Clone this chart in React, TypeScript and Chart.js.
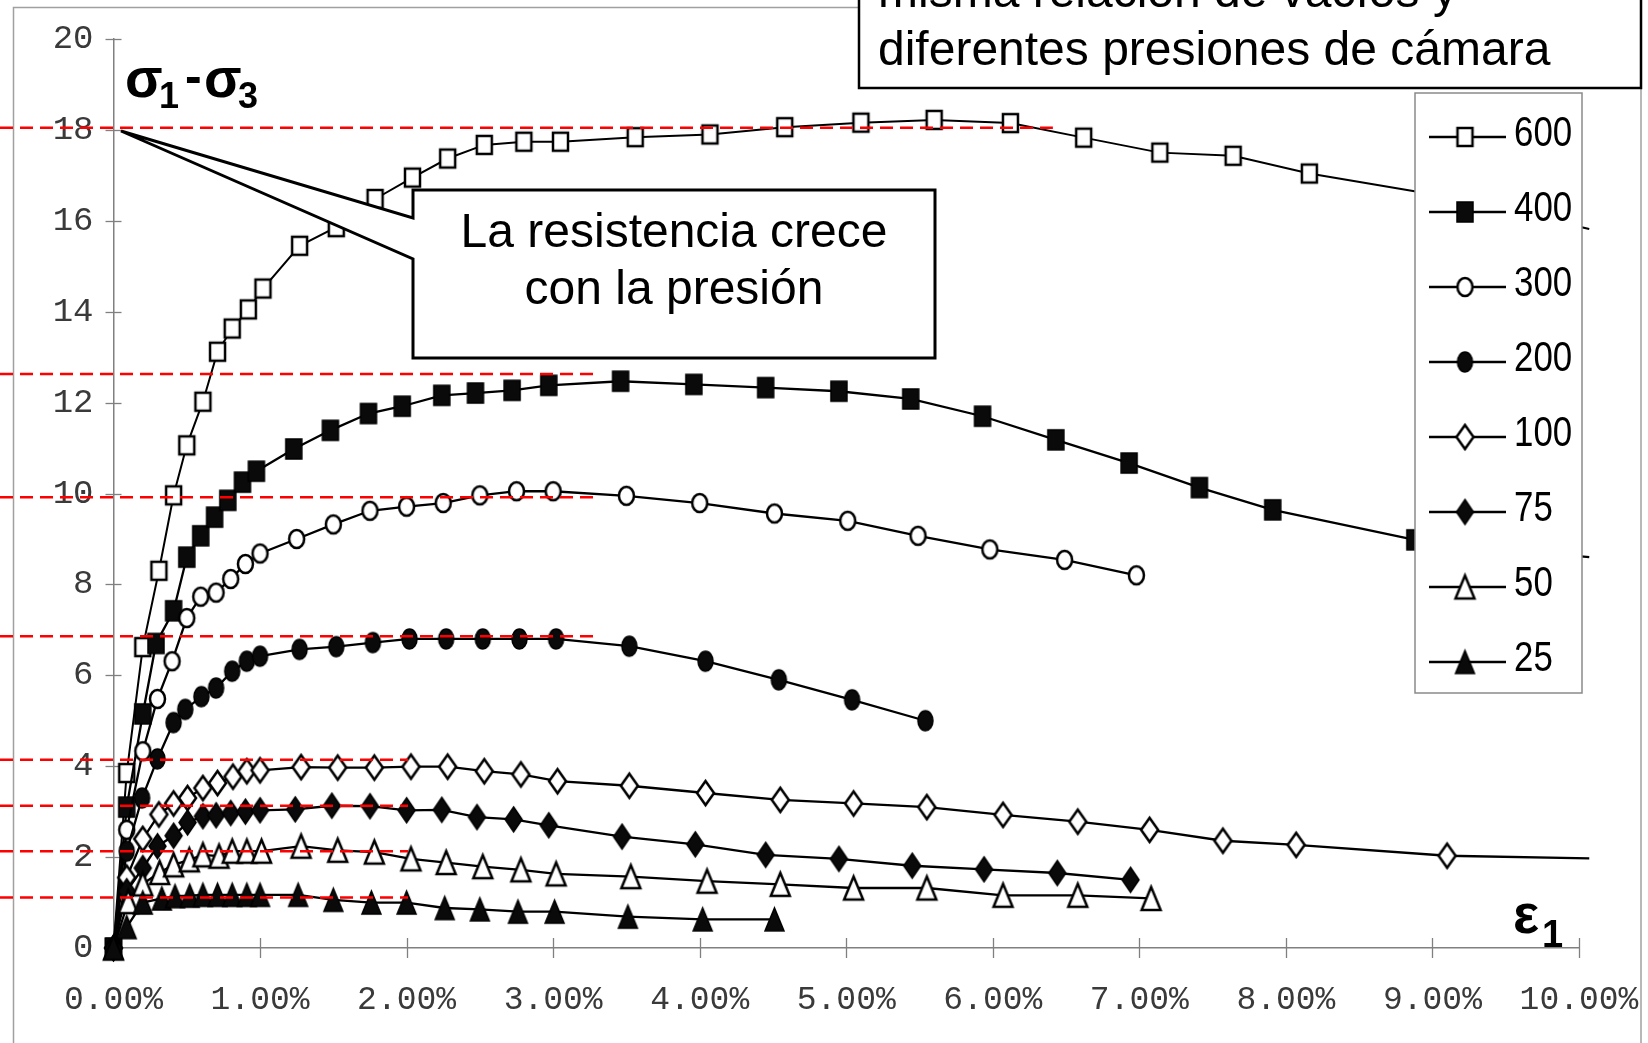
import React, { useEffect, useRef } from 'react';
import { Chart, registerables } from 'chart.js';

Chart.register(...registerables);

// ---- Data (strain in %, deviator stress) ----
const seriesLabels = ['600', '400', '300', '200', '100', '75', '50', '25'];

const strain600 = [0, 0.09, 0.2, 0.31, 0.41, 0.5, 0.61, 0.71, 0.81, 0.92, 1.02, 1.27, 1.52, 1.785, 2.04, 2.28, 2.53, 2.8, 3.05, 3.56, 4.07, 4.58, 5.1, 5.6, 6.12, 6.62, 7.14, 7.64, 8.16, 9.15, 10.07];
const stress600 = [0, 3.85, 6.62, 8.3, 9.96, 11.06, 12.02, 13.12, 13.63, 14.05, 14.51, 15.45, 15.86, 16.48, 16.95, 17.37, 17.67, 17.74, 17.74, 17.84, 17.9, 18.06, 18.16, 18.22, 18.15, 17.83, 17.5, 17.43, 17.04, 16.5, 15.82];

const strain400 = [0, 0.09, 0.2, 0.29, 0.41, 0.5, 0.595, 0.69, 0.78, 0.88, 0.975, 1.23, 1.48, 1.74, 1.97, 2.24, 2.47, 2.72, 2.97, 3.46, 3.96, 4.45, 4.95, 5.44, 5.93, 6.43, 6.93, 7.41, 7.91, 8.88, 9.55, 10.07];
const stress400 = [0, 3.1, 5.15, 6.7, 7.42, 8.6, 9.07, 9.48, 9.85, 10.25, 10.49, 10.98, 11.39, 11.76, 11.92, 12.16, 12.21, 12.27, 12.38, 12.47, 12.4, 12.33, 12.25, 12.08, 11.7, 11.18, 10.67, 10.13, 9.64, 8.98, 8.75, 8.6];

const strain300 = [0, 0.09, 0.2, 0.3, 0.4, 0.5, 0.595, 0.7, 0.8, 0.9, 1.0, 1.25, 1.5, 1.75, 2.0, 2.25, 2.5, 2.75, 3.0, 3.5, 4.0, 4.51, 5.01, 5.49, 5.98, 6.49, 6.98];
const stress300 = [0, 2.6, 4.33, 5.48, 6.31, 7.26, 7.73, 7.82, 8.12, 8.45, 8.68, 9.0, 9.32, 9.62, 9.71, 9.79, 9.96, 10.05, 10.05, 9.95, 9.79, 9.56, 9.4, 9.07, 8.77, 8.54, 8.2];

const strain200 = [0, 0.09, 0.195, 0.3, 0.41, 0.49, 0.6, 0.7, 0.81, 0.91, 1.0, 1.27, 1.52, 1.77, 2.02, 2.27, 2.52, 2.77, 3.02, 3.52, 4.04, 4.54, 5.04, 5.54];
const stress200 = [0, 2.13, 3.3, 4.16, 4.96, 5.25, 5.53, 5.72, 6.09, 6.31, 6.42, 6.57, 6.63, 6.72, 6.8, 6.8, 6.8, 6.8, 6.8, 6.64, 6.31, 5.9, 5.46, 5.0];

const strain100 = [0, 0.09, 0.2, 0.31, 0.41, 0.505, 0.61, 0.71, 0.815, 0.91, 1.0, 1.28, 1.53, 1.78, 2.03, 2.28, 2.53, 2.78, 3.03, 3.52, 4.04, 4.55, 5.05, 5.55, 6.07, 6.58, 7.07, 7.57, 8.07, 9.1, 10.07];
const stress100 = [0, 1.55, 2.4, 2.94, 3.18, 3.3, 3.52, 3.63, 3.77, 3.89, 3.91, 3.98, 3.97, 3.97, 3.99, 3.99, 3.89, 3.82, 3.67, 3.57, 3.41, 3.26, 3.18, 3.1, 2.93, 2.78, 2.6, 2.36, 2.27, 2.03, 1.97];

const strain75 = [0, 0.09, 0.2, 0.3, 0.41, 0.505, 0.61, 0.7, 0.8, 0.9, 1.0, 1.24, 1.49, 1.75, 2.0, 2.24, 2.48, 2.73, 2.97, 3.47, 3.97, 4.45, 4.95, 5.45, 5.94, 6.44, 6.94];
const stress75 = [0, 1.25, 1.76, 2.24, 2.47, 2.76, 2.9, 2.92, 2.97, 3.0, 3.03, 3.05, 3.13, 3.12, 3.03, 3.04, 2.88, 2.83, 2.7, 2.45, 2.28, 2.05, 1.96, 1.81, 1.73, 1.65, 1.5];

const strain50 = [0, 0.1, 0.2, 0.315, 0.41, 0.517, 0.61, 0.72, 0.81, 0.91, 1.01, 1.28, 1.53, 1.78, 2.03, 2.27, 2.52, 2.78, 3.02, 3.53, 4.05, 4.55, 5.05, 5.55, 6.07, 6.58, 7.08];
const stress50 = [0, 1.02, 1.41, 1.66, 1.83, 1.94, 2.05, 2.02, 2.13, 2.13, 2.13, 2.24, 2.15, 2.11, 1.96, 1.88, 1.79, 1.72, 1.63, 1.57, 1.47, 1.4, 1.32, 1.32, 1.16, 1.16, 1.09];

const strain25 = [0, 0.09, 0.2, 0.33, 0.42, 0.52, 0.61, 0.71, 0.81, 0.91, 1.0, 1.26, 1.5, 1.76, 2.0, 2.26, 2.5, 2.76, 3.01, 3.51, 4.02, 4.51];
const stress25 = [0, 0.46, 1.0, 1.09, 1.14, 1.15, 1.17, 1.17, 1.17, 1.17, 1.17, 1.17, 1.06, 1.0, 1.0, 0.88, 0.85, 0.8, 0.8, 0.69, 0.63, 0.63];

const strains = [strain600, strain400, strain300, strain200, strain100, strain75, strain50, strain25];
const stresses = [stress600, stress400, stress300, stress200, stress100, stress75, stress50, stress25];

// Red reference (peak) levels and where each dashed line ends (strain %)
const refLevels = [18.05, 12.63, 9.92, 6.86, 4.14, 3.13, 2.13, 1.11];
const refEnds = [6.41, 3.3, 3.3, 3.3, 2.01, 2.01, 2.01, 2.01];

const titleLines = ['misma relación de vacíos y', 'diferentes presiones de cámara'];
const calloutLines = ['La resistencia crece', 'con la presión'];

// marker spec per series: shape, filled, w, h, lineWidth
const markerSpecs: [string, boolean, number, number, number][] = [
  ['square', false, 15, 18, 2.5],
  ['square', true, 16, 20, 1.5],
  ['circle', false, 15, 18, 2.5],
  ['circle', true, 15, 20, 1.5],
  ['diamond', false, 17, 24, 2.5],
  ['diamond', true, 17, 25, 1.5],
  ['triangle', false, 19, 23, 2.5],
  ['triangle', true, 19, 23, 1.5],
];
const lineWidths = [2, 2.3, 2.3, 2.3, 2.3, 2.3, 2.3, 2.3];

function makeMarker(shape: string, filled: boolean, w: number, h: number, lw: number) {
  const c = document.createElement('canvas');
  const pad = Math.ceil(lw * 2) + 1;
  c.width = Math.round(w + 2 * pad);
  c.height = Math.round(h + 2 * pad);
  const g = c.getContext('2d')!;
  const cx = c.width / 2;
  const cy = c.height / 2;
  g.beginPath();
  if (shape === 'square') {
    g.rect(cx - w / 2, cy - h / 2, w, h);
  } else if (shape === 'circle') {
    g.ellipse(cx, cy, w / 2, h / 2, 0, 0, Math.PI * 2);
  } else if (shape === 'diamond') {
    g.moveTo(cx, cy - h / 2);
    g.lineTo(cx + w / 2, cy);
    g.lineTo(cx, cy + h / 2);
    g.lineTo(cx - w / 2, cy);
  } else {
    g.moveTo(cx, cy - h / 2);
    g.lineTo(cx + w / 2, cy + h / 2);
    g.lineTo(cx - w / 2, cy + h / 2);
  }
  g.closePath();
  g.fillStyle = filled ? '#0a0a0a' : '#ffffff';
  g.fill();
  g.lineWidth = lw;
  g.lineJoin = 'miter';
  g.strokeStyle = '#000';
  g.stroke();
  return c;
}

export default function App() {
  const ref = useRef<HTMLCanvasElement>(null);

  useEffect(() => {
    const markers = markerSpecs.map((m) => makeMarker(m[0], m[1], m[2], m[3], m[4]));

    const datasets = seriesLabels.map((label, i) => {
      const xs = strains[i];
      const ys = stresses[i];
      const radii = xs.map((x) => (x > 10 ? 0 : 8));
      return {
        label,
        data: xs.map((x, k) => ({ x, y: ys[k] })),
        borderColor: '#000',
        borderWidth: lineWidths[i],
        backgroundColor: '#000',
        pointStyle: markers[i] as any,
        pointRadius: radii,
        pointHoverRadius: radii,
        tension: 0,
        clip: false as any,
        order: 8 - i,
      };
    });

    const overlay = {
      id: 'overlay',
      beforeDatasetsDraw(chart: any) {
        const ctx = chart.ctx as CanvasRenderingContext2D;
        const xs = chart.scales.x;
        const ys = chart.scales.y;
        ctx.save();
        // outer frame
        ctx.strokeStyle = '#a0a0a0';
        ctx.lineWidth = 1.5;
        ctx.beginPath();
        ctx.moveTo(13.5, 1043);
        ctx.lineTo(13.5, 7.5);
        ctx.lineTo(860, 7.5);
        ctx.stroke();
        ctx.beginPath();
        ctx.moveTo(1641, 88);
        ctx.lineTo(1641, 1043);
        ctx.stroke();
        // tick stubs crossing the axes
        ctx.strokeStyle = '#808080';
        ctx.lineWidth = 1.3;
        ys.ticks.forEach((t: any) => {
          const py = Math.round(ys.getPixelForValue(t.value)) + 0.5;
          ctx.beginPath();
          ctx.moveTo(xs.left - 8, py);
          ctx.lineTo(xs.left + 8, py);
          ctx.stroke();
        });
        xs.ticks.forEach((t: any) => {
          const px = Math.round(xs.getPixelForValue(t.value)) + 0.5;
          ctx.beginPath();
          ctx.moveTo(px, ys.bottom - 10);
          ctx.lineTo(px, ys.bottom + 10);
          ctx.stroke();
        });
        ctx.restore();
      },
      afterDraw(chart: any) {
        const ctx = chart.ctx as CanvasRenderingContext2D;
        const xs = chart.scales.x;
        const ys = chart.scales.y;
        ctx.save();

        // red dashed peak lines
        ctx.strokeStyle = '#ff0000';
        ctx.lineWidth = 2.5;
        ctx.setLineDash([13, 7]);
        refLevels.forEach((lv, i) => {
          const py = ys.getPixelForValue(lv);
          ctx.beginPath();
          ctx.moveTo(0, py);
          ctx.lineTo(xs.getPixelForValue(refEnds[i]), py);
          ctx.stroke();
        });
        ctx.setLineDash([]);

        // callout
        ctx.beginPath();
        ctx.moveTo(413, 190);
        ctx.lineTo(935, 190);
        ctx.lineTo(935, 358);
        ctx.lineTo(413, 358);
        ctx.lineTo(413, 259);
        ctx.lineTo(121, 131);
        ctx.lineTo(413, 218);
        ctx.closePath();
        ctx.fillStyle = '#fff';
        ctx.fill();
        ctx.lineWidth = 3;
        ctx.lineJoin = 'miter';
        ctx.strokeStyle = '#000';
        ctx.stroke();
        ctx.fillStyle = '#000';
        ctx.font = '48px "Liberation Sans", Arial, sans-serif';
        ctx.textAlign = 'center';
        ctx.textBaseline = 'alphabetic';
        ctx.fillText(calloutLines[0], 674, 247);
        ctx.fillText(calloutLines[1], 674, 304);

        // title box
        ctx.beginPath();
        ctx.rect(859, -10, 782, 98);
        ctx.fillStyle = '#fff';
        ctx.fill();
        ctx.lineWidth = 2.5;
        ctx.strokeStyle = '#000';
        ctx.stroke();
        ctx.fillStyle = '#000';
        ctx.textAlign = 'left';
        ctx.fillText(titleLines[0], 878, 7);
        ctx.fillText(titleLines[1], 878, 65);

        // legend
        ctx.beginPath();
        ctx.rect(1415, 93, 167, 600);
        ctx.fillStyle = '#fff';
        ctx.fill();
        ctx.lineWidth = 1.5;
        ctx.strokeStyle = '#8a8a8a';
        ctx.stroke();
        seriesLabels.forEach((lab, i) => {
          const y = 137 + i * 75;
          ctx.beginPath();
          ctx.moveTo(1429, y);
          ctx.lineTo(1506, y);
          ctx.lineWidth = 2.5;
          ctx.strokeStyle = '#000';
          ctx.stroke();
          const m = markers[i];
          ctx.drawImage(m, 1465 - m.width / 2, y - m.height / 2);
          ctx.save();
          ctx.translate(1514, y + 9);
          ctx.scale(0.83, 1);
          ctx.fillStyle = '#000';
          ctx.font = '42px "Liberation Sans", Arial, sans-serif';
          ctx.textAlign = 'left';
          ctx.fillText(lab, 0, 0);
          ctx.restore();
        });

        // axis titles
        ctx.fillStyle = '#000';
        ctx.textAlign = 'left';
        ctx.font = 'bold 55px "Liberation Sans", Arial, sans-serif';
        ctx.fillText('σ', 125, 97);
        ctx.fillText('σ', 204, 97);
        ctx.font = 'bold 36px "Liberation Sans", Arial, sans-serif';
        ctx.fillText('1', 159, 108);
        ctx.fillText('3', 238, 108);
        ctx.font = 'bold 50px "Liberation Sans", Arial, sans-serif';
        ctx.fillText('-', 185, 93);
        ctx.font = 'bold 55px "Liberation Sans", Arial, sans-serif';
        ctx.fillText('ε', 1513, 933);
        ctx.font = 'bold 38px "Liberation Sans", Arial, sans-serif';
        ctx.fillText('1', 1542, 947);

        ctx.restore();
      },
    };

    const chart = new Chart(ref.current!, {
      type: 'line',
      data: { datasets: datasets as any },
      options: {
        responsive: false,
        animation: false,
        devicePixelRatio: 1,
        events: [],
        layout: { padding: { top: 39, right: 69, bottom: 0, left: 0 } },
        plugins: {
          legend: { display: false },
          tooltip: { enabled: false },
        },
        scales: {
          x: {
            type: 'linear',
            min: 0,
            max: 10,
            grid: { display: true, drawOnChartArea: false, drawTicks: false },
            border: { display: true, color: '#808080', width: 1.5 },
            ticks: {
              stepSize: 1,
              autoSkip: false,
              maxRotation: 0,
              padding: 32,
              color: '#3a3a3a',
              font: { family: '"Liberation Mono", "DejaVu Sans Mono", monospace', size: 33 },
              callback: (v: any) => Number(v).toFixed(2) + '%',
            },
            afterFit: (s: any) => {
              s.height = 95;
              s.paddingLeft = 0;
              s.paddingRight = 0;
            },
          },
          y: {
            type: 'linear',
            min: 0,
            max: 20,
            grid: { display: true, drawOnChartArea: false, drawTicks: false },
            border: { display: true, color: '#808080', width: 1.5 },
            ticks: {
              stepSize: 2,
              padding: 20,
              color: '#3a3a3a',
              font: { family: '"Liberation Mono", "DejaVu Sans Mono", monospace', size: 34 },
            },
            afterFit: (s: any) => {
              s.width = 113.5;
              s.paddingTop = 0;
              s.paddingBottom = 0;
            },
          },
        },
      },
      plugins: [overlay],
    });
    return () => chart.destroy();
  }, []);

  return (
    <div style={{ position: 'absolute', left: 0, top: 0, width: 1648, height: 1043, background: '#fff' }}>
      <canvas ref={ref} width={1648} height={1043} style={{ display: 'block', width: 1648, height: 1043 }} />
    </div>
  );
}
